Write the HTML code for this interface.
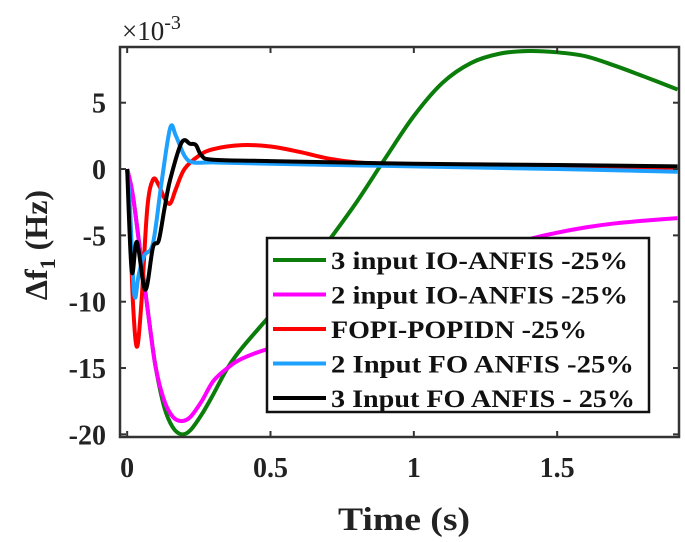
<!DOCTYPE html>
<html><head><meta charset="utf-8"><style>
body{margin:0;background:#fff}
svg{display:block;font-family:"Liberation Serif",serif;font-weight:bold}
</style></head><body>
<svg id="chart" width="685" height="542">
<g id="plot"></g>
</svg>
<script>
const xTicks=[0,0.5,1,1.5];
const xTickLabels=["0","0.5","1","1.5"];
const yTicks=[5,0,-5,-10,-15,-20];
const yTickLabels=["5","0","-5","-10","-15","-20"];
const seriesNames=["3 input IO-ANFIS -25%","2 input IO-ANFIS -25%","FOPI-POPIDN -25%","2 Input FO ANFIS -25%","3 Input FO ANFIS - 25%"];
const seriesColors=["#0a7d0a","#ff00ff","#ff0000","#1ea0ff","#000000"];
const greenT=[0,0.02,0.05,0.08,0.1,0.13,0.16,0.19,0.22,0.26,0.3,0.35,0.4,0.5,0.6,0.7,0.8,0.9,1.0,1.1,1.2,1.3,1.4,1.5,1.6,1.7,1.8,1.92];
const greenV=[0,-2,-7,-12,-15,-18,-19.5,-20,-19.7,-18.5,-17,-15,-13.5,-11,-8.5,-5.5,-2.5,0.8,4,6.5,8,8.7,8.9,8.8,8.5,7.8,7,6];
const magentaT=[0,0.02,0.05,0.08,0.1,0.13,0.16,0.19,0.22,0.26,0.3,0.35,0.4,0.5,0.6,0.7,0.8,0.9,1.0,1.1,1.2,1.3,1.4,1.5,1.6,1.7,1.8,1.92];
const magentaV=[0,-2,-7,-12,-15,-17.5,-18.7,-19,-18.7,-17.5,-16,-15,-14.3,-13.5,-13,-12,-11,-10,-9,-8,-7,-6,-5.3,-4.8,-4.4,-4.1,-3.9,-3.7];
const redT=[0,0.01,0.02,0.034,0.05,0.07,0.09,0.11,0.13,0.15,0.17,0.2,0.25,0.3,0.4,0.5,0.6,0.7,0.8,1.0,1.5,1.92];
const redV=[0,-4,-10,-13.4,-10,-3,-0.8,-1.2,-2.2,-2.6,-1.5,0,1,1.5,1.8,1.7,1.3,0.8,0.5,0.3,0.2,0.1];
const blueT=[0,0.01,0.02,0.028,0.04,0.06,0.09,0.12,0.15,0.17,0.2,0.23,0.3,0.5,1.0,1.5,1.92];
const blueV=[0,-3,-8,-9.7,-8,-6.5,-5.6,-1,3.1,2.5,1,0.5,0.5,0.4,0.2,0,-0.2];
const blackT=[0,0.016,0.034,0.063,0.09,0.11,0.13,0.15,0.19,0.22,0.24,0.26,0.3,0.5,1.0,1.5,1.92];
const blackV=[0,-7.7,-5.5,-9.1,-5.9,-5.4,-3,-0.8,2,1.9,1.8,1,0.7,0.6,0.4,0.3,0.2];

const L=120,R=679,T=47,B=437;
const xMin=-0.025,xMax=1.925,yMin=-20.2,yMax=9.2;
const sx=t=>L+(t-xMin)/(xMax-xMin)*(R-L);
const sy=v=>B-(v-yMin)/(yMax-yMin)*(B-T);
const NS="http://www.w3.org/2000/svg";
const g=document.getElementById('plot');
function mk(tag,attrs,parent){const e=document.createElementNS(NS,tag);for(const k in attrs)e.setAttribute(k,attrs[k]);(parent||g).appendChild(e);return e;}
function smooth(pts){let d=`M${pts[0][0]},${pts[0][1]}`;for(let i=0;i<pts.length-1;i++){const p0=pts[Math.max(0,i-1)],p1=pts[i],p2=pts[i+1],p3=pts[Math.min(pts.length-1,i+2)];const c1=[p1[0]+(p2[0]-p0[0])/6,p1[1]+(p2[1]-p0[1])/6],c2=[p2[0]-(p3[0]-p1[0])/6,p2[1]-(p3[1]-p1[1])/6];d+=`C${c1[0]},${c1[1]} ${c2[0]},${c2[1]} ${p2[0]},${p2[1]}`;}return d;}

const clip=mk('clipPath',{id:'cp'});mk('rect',{x:L,y:T,width:R-L,height:B-T},clip);

const data=[[greenT,greenV],[magentaT,magentaV],[redT,redV],[blueT,blueV],[blackT,blackV]];
const sNames=['green-io-anfis-3-line','magenta-io-anfis-2-line','red-fopi-popidn-line','blue-fo-anfis-2-line','black-fo-anfis-3-line'];
data.forEach((s,i)=>{
  const p=mk('path',{d:smooth(s[0].map((t,j)=>[sx(t),sy(s[1][j])])),fill:'none',stroke:seriesColors[i],'stroke-width':4,'stroke-linejoin':'round','clip-path':'url(#cp)'});
  
  
});

const frame=mk('rect',{x:L,y:T,width:R-L,height:B-T,fill:'none',stroke:'#333','stroke-width':2.5});



xTicks.forEach((t,i)=>{
  const x=sx(t);
  mk('line',{x1:x,y1:B,x2:x,y2:B-6,stroke:'#333','stroke-width':2});
  mk('line',{x1:x,y1:T,x2:x,y2:T+6,stroke:'#333','stroke-width':2});
  const tx=mk('text',{x:x,y:477,'text-anchor':'middle','font-size':28,fill:'#222'});
  tx.textContent=xTickLabels[i];
  
  
});
yTicks.forEach((v,i)=>{
  const y=sy(v);
  mk('line',{x1:L,y1:y,x2:L+6,y2:y,stroke:'#333','stroke-width':2});
  mk('line',{x1:R,y1:y,x2:R-6,y2:y,stroke:'#333','stroke-width':2});
  const tx=mk('text',{x:106,y:y+10,'text-anchor':'end','font-size':28,fill:'#222'});
  tx.textContent=yTickLabels[i];
  
  
});

const ex=mk('text',{x:122,y:40,'font-size':27,fill:'#222','font-weight':'normal'});
ex.innerHTML='×10<tspan dy="-11" font-size="20">-3</tspan>';



const xl=mk('text',{x:404,y:530,'text-anchor':'middle','font-size':33,fill:'#222',textLength:132,lengthAdjust:'spacingAndGlyphs'});
xl.textContent='Time (s)';



const yl=mk('text',{x:0,y:0,'text-anchor':'middle','font-size':32,fill:'#222',transform:'translate(47,245) rotate(-90)'});
yl.innerHTML='Δf<tspan dy="8" font-size="22">1</tspan><tspan dy="-8"> (Hz)</tspan>';



const lg=mk('g',{});


mk('rect',{x:267,y:238,width:382,height:174,fill:'#fff',stroke:'#111','stroke-width':2.5},lg);
const lw=[297,297,256,303,304];
seriesNames.forEach((n,i)=>{
  const y=260+i*34.5;
  const e=mk('g',{},lg);
  
  
  mk('line',{x1:273,y1:y,x2:326,y2:y,stroke:seriesColors[i],'stroke-width':4},e);
  const t=mk('text',{x:331,y:y+9,'font-size':25,fill:'#111',textLength:lw[i],lengthAdjust:'spacingAndGlyphs'},e);
  t.textContent=n;
});
</script>
</body></html>
